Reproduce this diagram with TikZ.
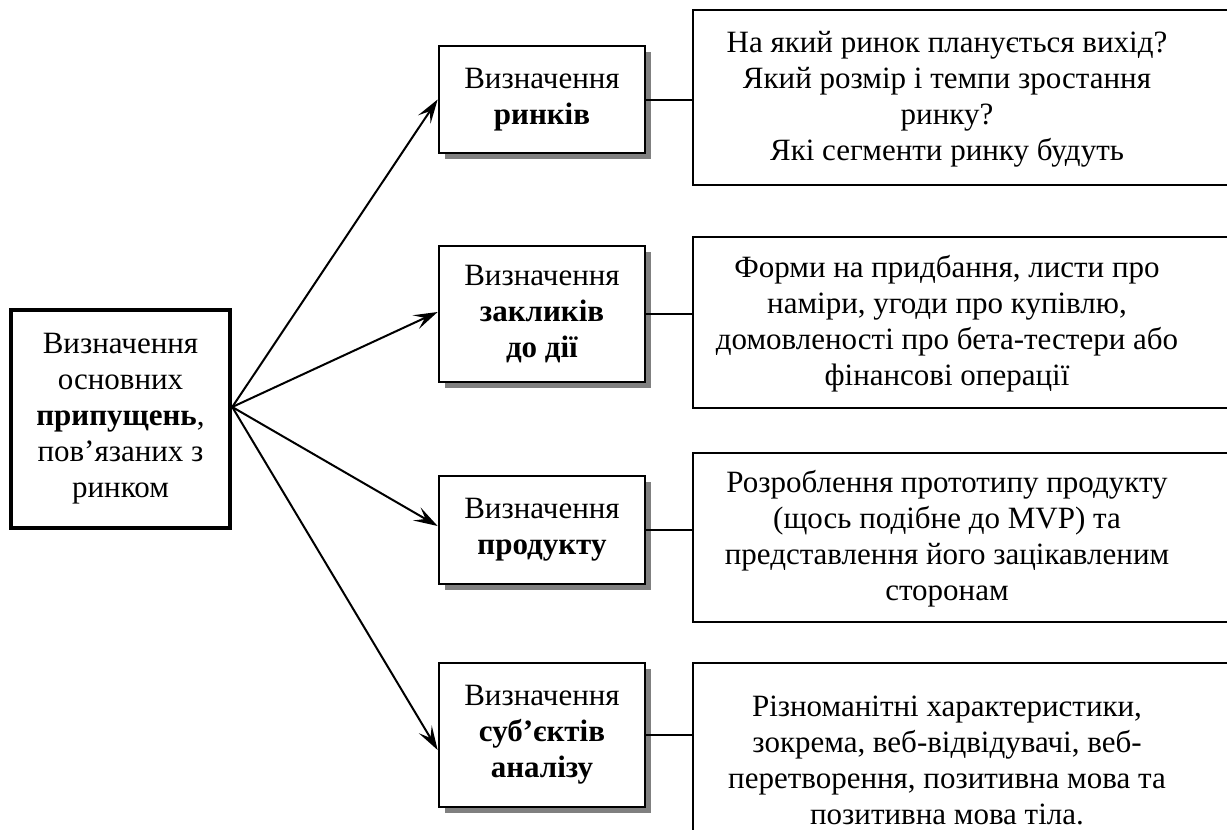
\documentclass[tikz,border=0pt]{standalone}
\usepackage{fontspec}
\setmainfont{Liberation Serif}
\usetikzlibrary{arrows.meta,shadows}
\begin{document}
\begin{tikzpicture}[x=1pt,y=-1pt,
  txt/.style={font=\fontsize{31}{36}\selectfont, align=center, inner sep=0pt},
  mainbox/.style={txt, draw, line width=4.5pt, fill=white, minimum width=219pt, minimum height=218pt},
  midbox/.style={txt, draw, line width=2.7pt, fill=white, minimum width=206pt,
    drop shadow={shadow xshift=5.5pt, shadow yshift=-5.5pt, fill=black!50, opacity=1}},
  rbox/.style={draw, line width=2.5pt, fill=white, minimum width=547pt, inner sep=0pt},
  rtext/.style={txt},
  conn/.style={line width=2pt},
  arr/.style={line width=2pt, -{Stealth[length=24pt, width=15pt, inset=10pt]}}
]
\useasboundingbox (0,0) rectangle (1227,830);

% left box
\node[mainbox] (L) at (120.5,419) {Визначення\\основних\\\textbf{припущень},\\пов’язаних з\\ринком};

% middle boxes
\node[midbox, minimum height=107pt] (m1) at (542,99.5) {Визначення\\\textbf{ринків}};
\node[midbox, minimum height=136pt] (m2) at (542,314) {Визначення\\\textbf{закликів}\\\textbf{до дії}};
\node[midbox, minimum height=108pt] (m3) at (542,530) {Визначення\\\textbf{продукту}};
\node[midbox, minimum height=144pt] (m4) at (542,735) {Визначення\\\textbf{суб’єктів}\\\textbf{аналізу}};

% right boxes
\node[rbox, minimum height=175pt] (r1) at (966.5,97.5) {};
\node[rtext] (r1t) at (947,99) {На який ринок планується вихід?\\Який розмір і темпи зростання\\ринку?\\Які сегменти ринку будуть};
\node[rbox, minimum height=171pt] (r2) at (966.5,322.5) {};
\node[rtext] (r2t) at (947,324) {Форми на придбання, листи про\\наміри, угоди про купівлю,\\домовленості про бета-тестери або\\фінансові операції};
\node[rbox, minimum height=169pt] (r3) at (966.5,537.5) {};
\node[rtext] (r3t) at (947,539) {Розроблення прототипу продукту\\(щось подібне до MVP) та\\представлення його зацікавленим\\сторонам};
\node[rbox, minimum height=192pt] (r4) at (966.5,759) {};
\node[rtext] (r4t) at (947,760) {Різноманітні характеристики,\\зокрема, веб-відвідувачі, веб-\\перетворення, позитивна мова та\\позитивна мова тіла.};

% connectors middle -> right
\draw[conn] (m1.east) -- (m1.east -| r1.west);
\draw[conn] (m2.east) -- (m2.east -| r2.west);
\draw[conn] (m3.east) -- (m3.east -| r3.west);
\draw[conn] (m4.east) -- (m4.east -| r4.west);

% arrows from left box
\coordinate (src) at ([yshift=12pt]L.east);
\draw[arr] (src) -- (m1.west);
\draw[arr] (src) -- ([yshift=2pt]m2.west);
\draw[arr] (src) -- ([yshift=4pt]m3.west);
\draw[arr] (src) -- ([yshift=-15pt]m4.west);
\end{tikzpicture}
\end{document}
